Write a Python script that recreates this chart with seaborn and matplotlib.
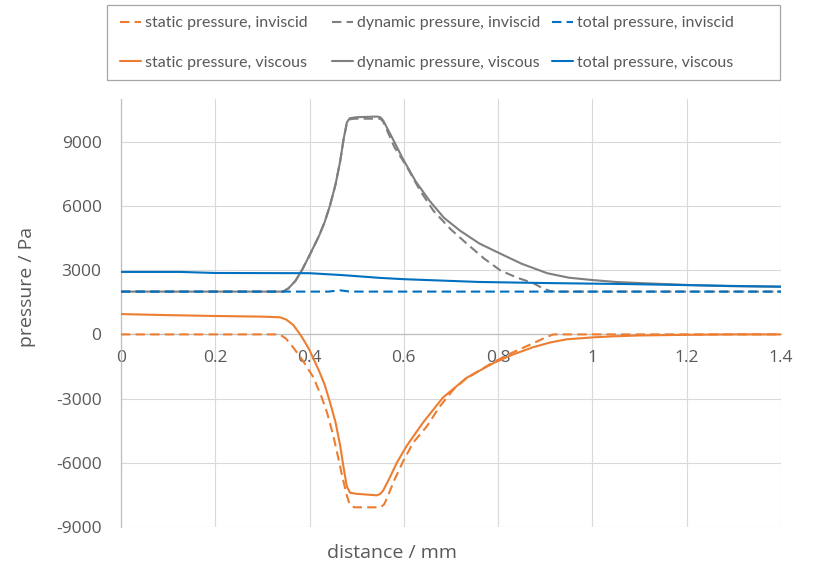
import numpy as np
import pandas as pd
import seaborn as sns
import matplotlib.pyplot as plt
from matplotlib.patches import Rectangle
from matplotlib.ticker import FormatStrFormatter

# static pressure, inviscid
x_static_inv = [0, 0.337, 0.35, 0.365, 0.385, 0.408, 0.425, 0.437, 0.45, 0.46, 0.47, 0.479,
                0.485, 0.495, 0.55, 0.558, 0.564, 0.58, 0.598, 0.62, 0.649, 0.675, 0.705,
                0.73, 0.762, 0.79, 0.819, 0.845, 0.874, 0.9, 0.917, 1.0, 1.4]
p_static_inv = [0, 0, -200, -600, -1200, -2000, -2900, -3650, -4700, -5680, -6700, -7520,
                -7950, -8080, -8080, -7950, -7660, -6800, -5950, -5050, -4290, -3400, -2580,
                -2100, -1660, -1300, -970, -700, -420, -150, 0, 0, 0]

# static pressure, viscous
x_static_vis = [0, 0.1, 0.2, 0.3, 0.337, 0.35, 0.365, 0.38, 0.39, 0.40, 0.42, 0.432, 0.443,
                0.455, 0.465, 0.472, 0.479, 0.486, 0.5, 0.543, 0.55, 0.556, 0.57, 0.585,
                0.606, 0.641, 0.683, 0.733, 0.79, 0.83, 0.874, 0.91, 0.945, 1.0, 1.044, 1.1,
                1.2, 1.3, 1.4]
p_static_vis = [950, 900, 860, 830, 800, 700, 450, 0, -350, -740, -1700, -2350, -3150,
                -4100, -5200, -6200, -7100, -7400, -7450, -7520, -7450, -7300, -6700, -6000,
                -5210, -4110, -2950, -2030, -1340, -950, -600, -380, -230, -140, -90, -50,
                -20, 0, 0]

# dynamic pressure, inviscid
x_dyn_inv = [0, 0.344, 0.355, 0.37, 0.385, 0.40, 0.42, 0.432, 0.443, 0.455, 0.465, 0.472,
             0.479, 0.485, 0.495, 0.55, 0.556, 0.565, 0.58, 0.606, 0.635, 0.663, 0.7, 0.733,
             0.77, 0.804, 0.84, 0.874, 0.895, 0.91, 0.92, 1.4]
p_dyn_inv = [2000, 2000, 2150, 2500, 3050, 3700, 4600, 5250, 6000, 7000, 8100, 9100,
             9850, 10050, 10080, 10080, 9950, 9500, 8750, 7850, 6700, 5770, 4900, 4250,
             3550, 3000, 2650, 2400, 2150, 2030, 2000, 2000]

# dynamic pressure, viscous
x_dyn_vis = [0, 0.344, 0.355, 0.37, 0.385, 0.40, 0.42, 0.432, 0.443, 0.455, 0.465, 0.472,
             0.479, 0.485, 0.5, 0.543, 0.55, 0.556, 0.575, 0.598, 0.625, 0.655, 0.685,
             0.719, 0.76, 0.804, 0.85, 0.904, 0.95, 1.0, 1.05, 1.1, 1.214, 1.3, 1.4]
p_dyn_vis = [2000, 2000, 2150, 2500, 3050, 3700, 4600, 5250, 6000, 7000, 8100, 9100,
             9900, 10100, 10150, 10180, 10150, 10000, 9200, 8200, 7150, 6230, 5450,
             4850, 4250, 3780, 3300, 2860, 2650, 2540, 2450, 2400, 2300, 2250, 2230]

# total pressure, inviscid
x_tot_inv = [0, 0.44, 0.465, 0.485, 1.4]
p_tot_inv = [2000, 2000, 2060, 2000, 2000]

# total pressure, viscous
x_tot_vis = [0, 0.125, 0.2, 0.4, 0.47, 0.55, 0.6, 0.76, 0.9, 1.08, 1.31, 1.4]
p_tot_vis = [2920, 2920, 2870, 2860, 2770, 2640, 2580, 2450, 2400, 2350, 2260, 2230]

x_ticks = [0, 0.2, 0.4, 0.6, 0.8, 1.0, 1.2, 1.4]
y_ticks = [-9000, -6000, -3000, 0, 3000, 6000, 9000]

orange = '#ED7D31'
grey = '#7F7F7F'
blue = '#0070C0'

series = [
    ('static pressure, inviscid', x_static_inv, p_static_inv, orange, '--'),
    ('static pressure, viscous', x_static_vis, p_static_vis, orange, '-'),
    ('dynamic pressure, inviscid', x_dyn_inv, p_dyn_inv, grey, '--'),
    ('dynamic pressure, viscous', x_dyn_vis, p_dyn_vis, grey, '-'),
    ('total pressure, inviscid', x_tot_inv, p_tot_inv, blue, '--'),
    ('total pressure, viscous', x_tot_vis, p_tot_vis, blue, '-'),
]

sns.set_theme(style='white')
plt.rcParams['font.family'] = ['Open Sans', 'DejaVu Sans']
plt.rcParams['axes.unicode_minus'] = False

fig = plt.figure(figsize=(8.13, 5.69), dpi=100)
ax = fig.add_axes([121 / 813, 1 - 527 / 569, 660 / 813, (527 - 99) / 569])

for label, xs, ps, col, ls in series:
    df = pd.DataFrame({'distance': xs, 'pressure': ps})
    sns.lineplot(data=df, x='distance', y='pressure', ax=ax, color=col,
                 linewidth=1.5, label=label, sort=False, estimator=None, zorder=3)
    l = ax.get_lines()[-1]
    if ls == '--':
        l.set_dashes((4.5, 2.5))

ax.set_xlim(0, 1.4)
ax.set_ylim(-9000, 11000)
ax.set_xticks(x_ticks)
ax.set_yticks(y_ticks)
ax.xaxis.set_major_formatter(FormatStrFormatter('%g'))
ax.yaxis.set_major_formatter(FormatStrFormatter('%d'))
ax.set_xlabel('')
ax.set_ylabel('')

ax.grid(True, color='#D9D9D9', linewidth=0.8)
ax.set_axisbelow(True)
for s in ['top', 'right']:
    ax.spines[s].set_visible(False)
ax.spines['left'].set_color('#BFBFBF')
ax.spines['left'].set_linewidth(0.9)
ax.spines['bottom'].set_position(('data', 0))
ax.spines['bottom'].set_color('#BFBFBF')
ax.spines['bottom'].set_linewidth(0.9)
ax.tick_params(axis='both', length=0, labelsize=12.5, labelcolor='#595959')
ax.tick_params(axis='x', pad=11)
ax.tick_params(axis='y', pad=14)

fig.text(27 / 813, 1 - 287 / 569, 'pressure / Pa', rotation=90, ha='center', va='center',
         fontsize=14, color='#595959')
fig.text(392 / 813, 1 - 553 / 569, 'distance / mm', ha='center', va='center',
         fontsize=14, color='#595959')

# legend: one frame, three columns placed by hand like the original
handles, labels = ax.get_legend_handles_labels()
ax.get_legend().remove()
fig.add_artist(Rectangle((107 / 813, 1 - 80 / 569), 673 / 813, 75 / 569,
                         transform=fig.transFigure, fill=False,
                         edgecolor='#A6A6A6', linewidth=0.9))
col_x = [120, 332, 552]
for i, cx in enumerate(col_x):
    leg = fig.legend(handles[2 * i:2 * i + 2], labels[2 * i:2 * i + 2],
                     loc='upper left', bbox_to_anchor=(cx / 813, 1 - 16 / 569),
                     bbox_transform=fig.transFigure, frameon=False,
                     handlelength=1.3, handletextpad=0.25, labelspacing=1.6,
                     borderpad=0, borderaxespad=0,
                     prop={'family': ['Lato', 'DejaVu Sans'], 'size': 11.5})
    for t in leg.get_texts():
        t.set_color('#595959')

fig.savefig('out.png', dpi=100)
